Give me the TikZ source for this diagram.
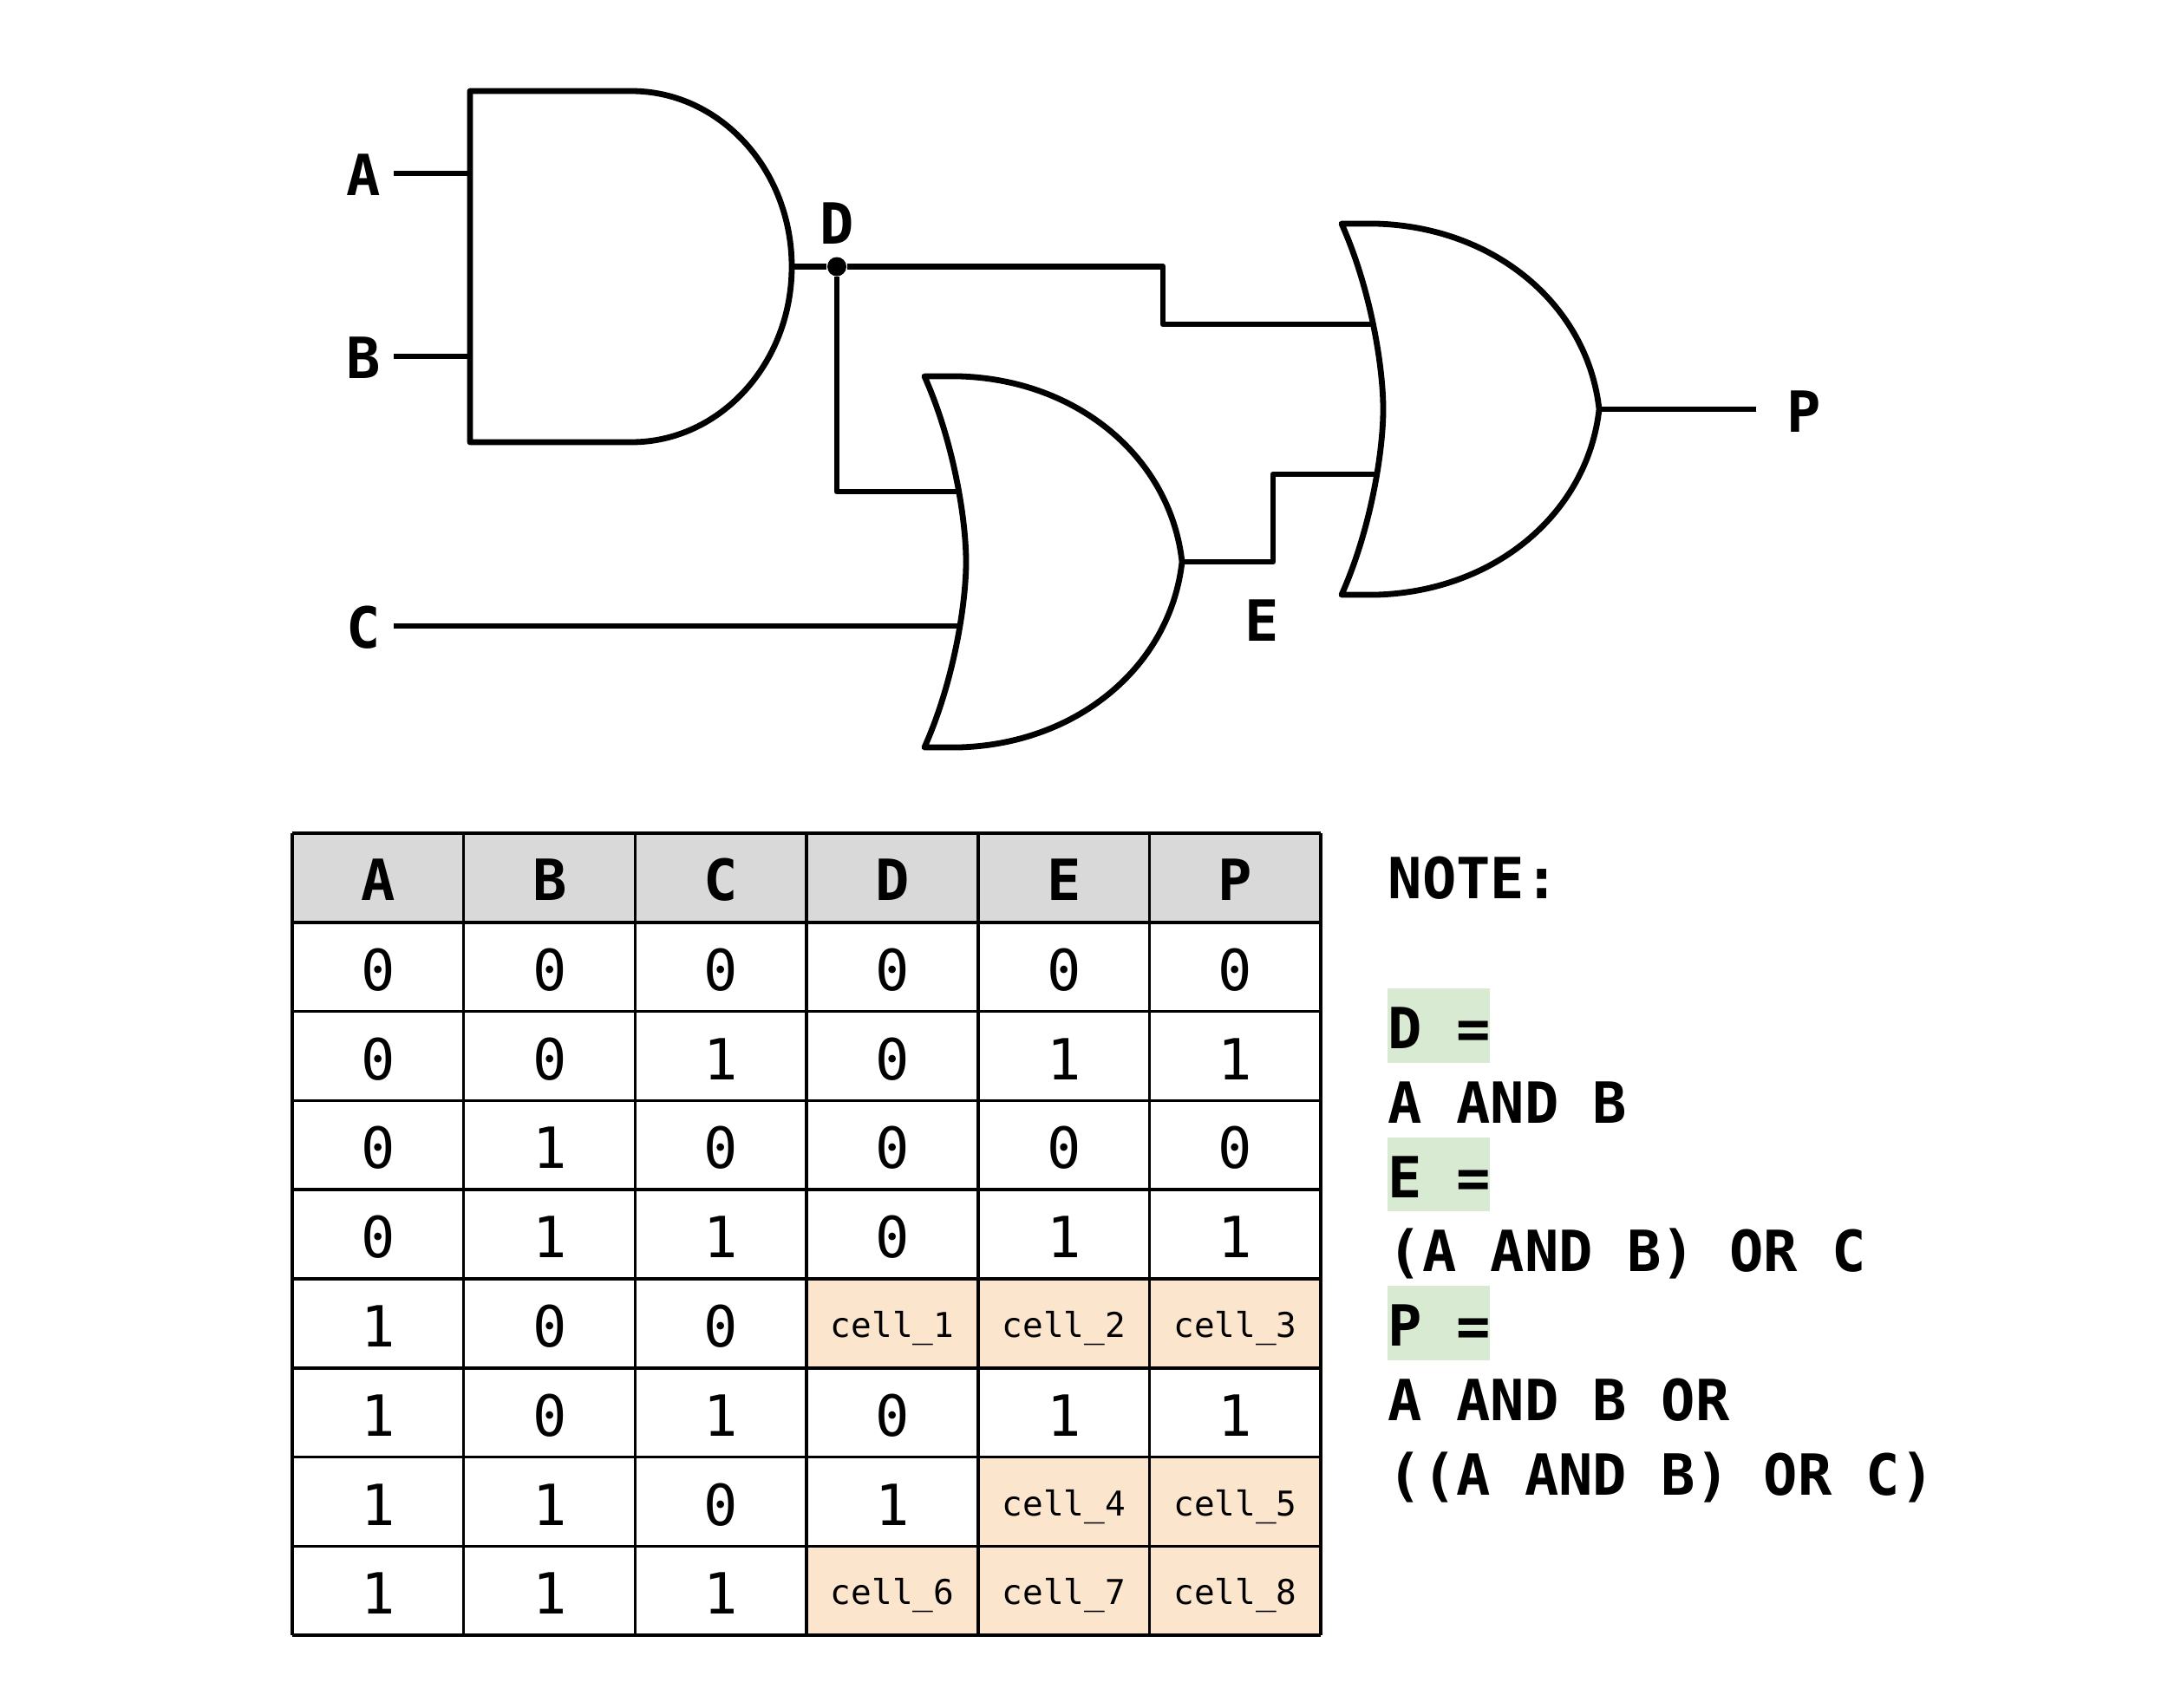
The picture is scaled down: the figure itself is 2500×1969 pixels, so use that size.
\documentclass[tikz,border=0pt]{standalone}
\usepackage{fontspec}
\setmainfont{DejaVu Sans Mono}
\definecolor{headgray}{HTML}{D9D9D9}
\definecolor{cellorange}{HTML}{FCE5CD}
\definecolor{notegreen}{HTML}{D9EAD3}

\begin{document}
\begin{tikzpicture}[
            x=0.01cm, y=-0.01cm,
            wire/.style={color=black, line width=0.068cm, line join=round},
            gridline/.style={color=black, line width=0.035cm},
            label/.style={font=\fontsize{18.6}{22}\selectfont\bfseries, inner sep=0pt},
            headnode/.style={font=\fontsize{18.6}{22}\selectfont\bfseries, anchor=base, inner sep=0pt},
            valuenode/.style={font=\fontsize{18.6}{22}\selectfont, anchor=base, inner sep=0pt},
            cellnode/.style={font=\fontsize{11.2}{14}\selectfont, anchor=base, inner sep=0pt},
            notenode/.style={font=\fontsize{18.6}{22}\selectfont\bfseries, anchor=base west, inner sep=0pt},
            dotnode/.style={circle, fill=black, inner sep=0pt, minimum size=0.22cm},
            orgate/.pic={
                \draw[wire] (0,-214) -- (40,-214) .. controls (179,-210) and (284,-118) .. (297,0)
                    .. controls (284,118) and (179,210) .. (40,214) -- (0,214)
                    .. controls (34,138) and (48,48) .. (48,0)
                    .. controls (48,-48) and (34,-138) .. (0,-214) -- cycle;
                \coordinate (-out) at (297,0);
            }
        ]
            \useasboundingbox (0,0) rectangle (2500,1969);

            % and gate
            \draw[wire] (542,105) -- (728,105)
                arc[start angle=-90, end angle=90, x radius=185, y radius=202.5] -- (542,510) -- cycle;
            \coordinate (gateD-out) at (913,307.5);

            % or gates
            \pic (gateE) at (1066,648) {orgate};
            \pic (gateP) at (1547,472) {orgate};

            % wire ends
            \coordinate (inA) at (454,200);
            \coordinate (inB) at (454,411);
            \coordinate (inC) at (454,722);
            \coordinate (gateD-a) at (542,200);
            \coordinate (gateD-b) at (542,411);
            \coordinate (gateE-a) at (1103,567);
            \coordinate (gateE-b) at (1107,722);
            \coordinate (gateP-a) at (1582,374);
            \coordinate (gateP-b) at (1589,547);
            \coordinate (kneeD) at (1341,307.5);
            \coordinate (kneeE) at (1468,648);
            \coordinate (outP) at (2025,472);
            \node[dotnode] (dotD) at (965,307.5) {};

            % wires
            \draw[wire] (inA) -- (gateD-a);
            \draw[wire] (inB) -- (gateD-b);
            \draw[wire] (inC) -- (gateE-b);
            \draw[wire] (gateD-out) -- (dotD);
            \draw[wire] (dotD) -- (kneeD) |- (gateP-a);
            \draw[wire] (dotD) |- (gateE-a);
            \draw[wire] (gateE-out) -- (kneeE) |- (gateP-b);
            \draw[wire] (gateP-out) -- (outP);

            % wire labels
            \node[label] (labelA) at (419,202) {A};
            \node[label] (labelB) at (419,413) {B};
            \node[label] (labelC) at (419,724) {C};
            \node[label] (labelD) at (965,258) {D};
            \node[label] (labelE) at (1455,716) {E};
            \node[label] (labelP) at (2080,475) {P};

            % table fills
            \fill[headgray] (337,961) rectangle (1523,1063.5);
            \fill[cellorange] (930,1475) rectangle (1523,1578);
            \fill[cellorange] (1128,1681) rectangle (1523,1783);
            \fill[cellorange] (930,1783) rectangle (1523,1886);

            % table lines
            \foreach \k in {0,...,6}{
                \draw[gridline] ({337+197.7*\k},961) -- ({337+197.7*\k},1886);
            }
            \foreach \r in {0,...,9}{
                \draw[gridline] (337,{961+102.8*\r}) -- (1523,{961+102.8*\r});
            }

            % head row
            \foreach \name [count=\k from 0] in {A,B,C,D,E,P}{
                \node[headnode] (head\name) at ({436+197.7*\k},1038) {\name};
            }

            % values
            \foreach \r/\vals in {1/{0,0,0,0,0,0}, 2/{0,0,1,0,1,1}, 3/{0,1,0,0,0,0}, 4/{0,1,1,0,1,1},
                                  5/{1,0,0}, 6/{1,0,1,0,1,1}, 7/{1,1,0,1}, 8/{1,1,1}}{
                \foreach \v [count=\k from 0] in \vals{
                    \node[valuenode] (val\r-\k) at ({436+197.7*\k},{1039.5+102.8*\r}) {\v};
                }
            }

            % blank cells
            \foreach \n/\k/\r in {1/3/5, 2/4/5, 3/5/5, 4/4/7, 5/5/7, 6/3/8, 7/4/8, 8/5/8}{
                \node[cellnode] (cell\n) at ({436+197.7*\k},{1028.5+102.8*\r}) {cell\_\n};
            }

            % note
            \fill[notegreen] (1600,1140) rectangle (1718,1226);
            \fill[notegreen] (1600,1312) rectangle (1718,1397);
            \fill[notegreen] (1600,1483) rectangle (1718,1569);
            \node[notenode] (note0) at (1600,1036) {NOTE:};
            \node[notenode] (note1) at (1600,1209.5) {D =};
            \node[notenode] (note2) at (1600,1295.5) {A AND B};
            \node[notenode] (note3) at (1600,1381.5) {E =};
            \node[notenode] (note4) at (1600,1466.5) {(A AND B) OR C};
            \node[notenode] (note5) at (1600,1552.5) {P =};
            \node[notenode] (note6) at (1600,1638.5) {A AND B OR};
            \node[notenode] (note7) at (1600,1724.5) {((A AND B) OR C)};
        \end{tikzpicture}
\end{document}
